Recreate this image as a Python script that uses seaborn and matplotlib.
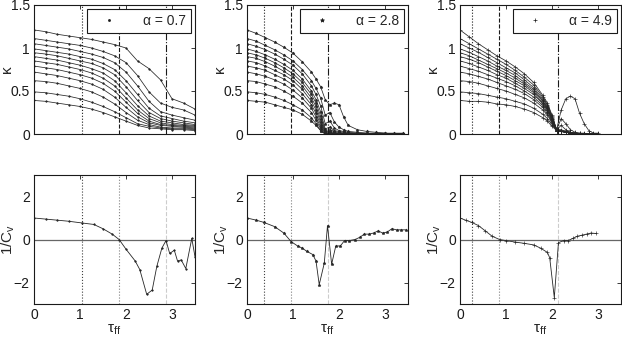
import numpy as np
import pandas as pd
import matplotlib
matplotlib.use("Agg")
import matplotlib.pyplot as plt
from matplotlib.lines import Line2D
import seaborn as sns

# ---- data ----
alphas = ["0.7", "2.8", "4.9"]
markers = [".", "*", "+"]

# top row: kappa curves (12 per panel)
tau_k1 = [0, 0.25, 0.5, 0.75, 1.0, 1.25, 1.5, 1.75, 2.0, 2.25, 2.5, 2.75, 3.0, 3.25, 3.5]
kappa_1 = [
    [1.21, 1.19, 1.16, 1.14, 1.12, 1.10, 1.07, 1.04, 1.00, 0.85, 0.76, 0.63, 0.41, 0.36, 0.29],
    [1.11, 1.09, 1.07, 1.05, 1.03, 1.00, 0.96, 0.91, 0.83, 0.68, 0.49, 0.36, 0.31, 0.28, 0.22],
    [1.05, 1.03, 1.01, 0.99, 0.96, 0.93, 0.89, 0.83, 0.72, 0.56, 0.38, 0.26, 0.22, 0.19, 0.16],
    [0.99, 0.97, 0.95, 0.93, 0.90, 0.87, 0.82, 0.75, 0.62, 0.46, 0.30, 0.21, 0.18, 0.15, 0.13],
    [0.945, 0.93, 0.91, 0.88, 0.85, 0.82, 0.77, 0.69, 0.55, 0.39, 0.25, 0.18, 0.15, 0.13, 0.11],
    [0.90, 0.88, 0.86, 0.83, 0.80, 0.76, 0.71, 0.62, 0.48, 0.33, 0.21, 0.15, 0.13, 0.11, 0.10],
    [0.85, 0.83, 0.81, 0.78, 0.75, 0.71, 0.65, 0.56, 0.42, 0.28, 0.18, 0.13, 0.11, 0.10, 0.09],
    [0.79, 0.77, 0.75, 0.72, 0.69, 0.65, 0.59, 0.50, 0.37, 0.24, 0.15, 0.11, 0.10, 0.09, 0.08],
    [0.72, 0.70, 0.68, 0.65, 0.62, 0.58, 0.52, 0.43, 0.31, 0.20, 0.13, 0.10, 0.09, 0.08, 0.07],
    [0.62, 0.61, 0.59, 0.56, 0.53, 0.49, 0.43, 0.35, 0.25, 0.16, 0.11, 0.08, 0.07, 0.07, 0.06],
    [0.49, 0.48, 0.46, 0.44, 0.41, 0.37, 0.32, 0.26, 0.19, 0.12, 0.09, 0.07, 0.06, 0.06, 0.05],
    [0.39, 0.38, 0.36, 0.34, 0.32, 0.29, 0.25, 0.20, 0.15, 0.10, 0.07, 0.06, 0.05, 0.05, 0.04],
]

tau_k2 = [0, 0.2, 0.4, 0.6, 0.8, 1.0, 1.2, 1.4, 1.5, 1.6, 1.7, 1.8, 1.9, 2.0, 2.1, 2.2, 2.4, 2.6, 2.8, 3.0, 3.2, 3.4]
kappa_2 = [
    [1.21, 1.17, 1.12, 1.07, 1.01, 0.94, 0.84, 0.72, 0.64, 0.55, 0.40, 0.34, 0.36, 0.34, 0.20, 0.10, 0.05, 0.03, 0.02, 0.01, 0.01, 0.01],
    [1.11, 1.08, 1.03, 0.98, 0.92, 0.85, 0.75, 0.62, 0.53, 0.42, 0.22, 0.25, 0.14, 0.08, 0.05, 0.03, 0.02, 0.01, 0.01, 0.01, 0.0, 0.0],
    [1.05, 1.02, 0.98, 0.93, 0.87, 0.80, 0.70, 0.56, 0.46, 0.33, 0.12, 0.15, 0.07, 0.04, 0.03, 0.02, 0.01, 0.01, 0.0, 0.0, 0.0, 0.0],
    [0.99, 0.96, 0.92, 0.87, 0.81, 0.74, 0.64, 0.50, 0.40, 0.26, 0.06, 0.08, 0.04, 0.03, 0.02, 0.01, 0.01, 0.0, 0.0, 0.0, 0.0, 0.0],
    [0.945, 0.92, 0.88, 0.83, 0.77, 0.70, 0.60, 0.46, 0.36, 0.21, 0.04, 0.05, 0.03, 0.02, 0.01, 0.01, 0.0, 0.0, 0.0, 0.0, 0.0, 0.0],
    [0.90, 0.88, 0.84, 0.79, 0.73, 0.66, 0.56, 0.42, 0.32, 0.17, 0.03, 0.03, 0.02, 0.01, 0.01, 0.0, 0.0, 0.0, 0.0, 0.0, 0.0, 0.0],
    [0.85, 0.83, 0.79, 0.74, 0.69, 0.62, 0.52, 0.38, 0.28, 0.14, 0.02, 0.02, 0.01, 0.01, 0.0, 0.0, 0.0, 0.0, 0.0, 0.0, 0.0, 0.0],
    [0.79, 0.77, 0.74, 0.69, 0.64, 0.57, 0.47, 0.34, 0.24, 0.11, 0.01, 0.01, 0.01, 0.0, 0.0, 0.0, 0.0, 0.0, 0.0, 0.0, 0.0, 0.0],
    [0.72, 0.70, 0.67, 0.63, 0.58, 0.51, 0.42, 0.30, 0.20, 0.08, 0.01, 0.01, 0.0, 0.0, 0.0, 0.0, 0.0, 0.0, 0.0, 0.0, 0.0, 0.0],
    [0.62, 0.61, 0.58, 0.55, 0.50, 0.44, 0.36, 0.25, 0.16, 0.06, 0.0, 0.0, 0.0, 0.0, 0.0, 0.0, 0.0, 0.0, 0.0, 0.0, 0.0, 0.0],
    [0.49, 0.48, 0.46, 0.43, 0.39, 0.34, 0.28, 0.19, 0.12, 0.04, 0.0, 0.0, 0.0, 0.0, 0.0, 0.0, 0.0, 0.0, 0.0, 0.0, 0.0, 0.0],
    [0.39, 0.38, 0.37, 0.34, 0.31, 0.28, 0.23, 0.15, 0.10, 0.04, 0.0, 0.0, 0.0, 0.0, 0.0, 0.0, 0.0, 0.0, 0.0, 0.0, 0.0, 0.0],
]

tau_k3 = [0, 0.2, 0.4, 0.6, 0.8, 1.0, 1.2, 1.4, 1.6, 1.8, 1.9, 2.0, 2.1, 2.2, 2.3, 2.4, 2.5, 2.6, 2.7, 2.8, 2.9, 3.0]
kappa_3 = [
    [1.21, 1.13, 1.05, 0.98, 0.91, 0.85, 0.78, 0.70, 0.60, 0.45, 0.36, 0.22, 0.05, 0.28, 0.41, 0.44, 0.41, 0.24, 0.12, 0.04, 0.01, 0.01],
    [1.11, 1.05, 0.99, 0.93, 0.87, 0.81, 0.74, 0.66, 0.57, 0.43, 0.34, 0.21, 0.05, 0.18, 0.12, 0.05, 0.02, 0.01, 0.01, 0.0, 0.0, 0.0],
    [1.05, 1.00, 0.95, 0.89, 0.83, 0.77, 0.71, 0.63, 0.54, 0.41, 0.33, 0.20, 0.05, 0.10, 0.05, 0.02, 0.01, 0.01, 0.0, 0.0, 0.0, 0.0],
    [0.99, 0.95, 0.90, 0.85, 0.79, 0.74, 0.68, 0.60, 0.52, 0.39, 0.31, 0.19, 0.05, 0.05, 0.03, 0.02, 0.01, 0.0, 0.0, 0.0, 0.0, 0.0],
    [0.945, 0.91, 0.86, 0.81, 0.76, 0.71, 0.65, 0.58, 0.50, 0.38, 0.30, 0.18, 0.05, 0.04, 0.03, 0.02, 0.01, 0.0, 0.0, 0.0, 0.0, 0.0],
    [0.90, 0.87, 0.83, 0.78, 0.73, 0.68, 0.62, 0.56, 0.48, 0.36, 0.29, 0.17, 0.04, 0.03, 0.02, 0.01, 0.01, 0.0, 0.0, 0.0, 0.0, 0.0],
    [0.85, 0.82, 0.78, 0.74, 0.69, 0.65, 0.59, 0.53, 0.46, 0.35, 0.28, 0.16, 0.04, 0.03, 0.02, 0.01, 0.0, 0.0, 0.0, 0.0, 0.0, 0.0],
    [0.79, 0.76, 0.73, 0.69, 0.65, 0.61, 0.56, 0.50, 0.43, 0.33, 0.26, 0.15, 0.04, 0.03, 0.02, 0.01, 0.0, 0.0, 0.0, 0.0, 0.0, 0.0],
    [0.72, 0.70, 0.67, 0.64, 0.60, 0.56, 0.52, 0.47, 0.40, 0.31, 0.24, 0.14, 0.04, 0.03, 0.02, 0.01, 0.0, 0.0, 0.0, 0.0, 0.0, 0.0],
    [0.62, 0.61, 0.59, 0.56, 0.53, 0.50, 0.46, 0.42, 0.36, 0.28, 0.22, 0.13, 0.04, 0.03, 0.02, 0.01, 0.0, 0.0, 0.0, 0.0, 0.0, 0.0],
    [0.49, 0.48, 0.47, 0.45, 0.43, 0.41, 0.38, 0.35, 0.30, 0.23, 0.18, 0.11, 0.04, 0.03, 0.02, 0.01, 0.0, 0.0, 0.0, 0.0, 0.0, 0.0],
    [0.39, 0.38, 0.38, 0.37, 0.35, 0.34, 0.32, 0.29, 0.25, 0.19, 0.15, 0.09, 0.04, 0.03, 0.02, 0.01, 0.0, 0.0, 0.0, 0.0, 0.0, 0.0],
]

# bottom row: 1/C_v
tau_c1 = [0, 0.25, 0.5, 0.75, 1.04, 1.3, 1.5, 1.7, 1.85, 2.0, 2.2, 2.3, 2.45, 2.57, 2.67, 2.78, 2.87, 2.95, 3.05, 3.12, 3.2, 3.3, 3.43, 3.5]
invcv_1 = [1.0, 0.95, 0.9, 0.85, 0.77, 0.7, 0.5, 0.25, 0.0, -0.45, -1.0, -1.4, -2.55, -2.35, -1.25, -0.4, -0.05, -0.65, -0.5, -1.0, -0.95, -1.35, 0.05, -0.8]

tau_c2 = [0, 0.2, 0.36, 0.6, 0.8, 0.96, 1.1, 1.2, 1.3, 1.43, 1.5, 1.57, 1.68, 1.75, 1.84, 1.93, 2.03, 2.12, 2.22, 2.35, 2.45, 2.55,
          2.65, 2.75, 2.85, 2.95, 3.05, 3.15, 3.25, 3.35, 3.45]
invcv_2 = [1.0, 0.9, 0.8, 0.6, 0.3, -0.1, -0.3, -0.4, -0.55, -0.7, -1.0, -2.1, -1.1, 0.65, -1.15, -0.3, -0.3, -0.05, -0.05, 0.0, 0.1, 0.25,
           0.25, 0.3, 0.4, 0.3, 0.35, 0.5, 0.45, 0.45, 0.45]

tau_c3 = [0, 0.12, 0.25, 0.4, 0.55, 0.7, 0.86, 1.0, 1.2, 1.4, 1.6, 1.75, 1.9, 1.95, 2.05, 2.14, 2.25, 2.35, 2.45, 2.55, 2.65, 2.75, 2.85, 2.95]
invcv_3 = [1.0, 0.9, 0.8, 0.65, 0.4, 0.15, 0.0, -0.05, -0.12, -0.18, -0.25, -0.4, -0.6, -0.85, -2.7, -0.15, -0.05, -0.05, 0.05, 0.15, 0.2, 0.25, 0.3, 0.28]

# characteristic temperatures (vertical lines)
vlines = [[1.04, 1.85, 2.86], [0.36, 0.96, 1.75], [0.25, 0.855, 2.14]]

tau_k = [tau_k1, tau_k2, tau_k3]
kappas = [kappa_1, kappa_2, kappa_3]
tau_c = [tau_c1, tau_c2, tau_c3]
invcvs = [invcv_1, invcv_2, invcv_3]

sns.set_theme(style="white")
plt.rcParams["font.family"] = ["Liberation Sans", "DejaVu Sans"]
plt.rcParams["mathtext.default"] = "regular"
plt.rcParams["xtick.direction"] = "in"
plt.rcParams["ytick.direction"] = "in"

fig = plt.figure(figsize=(6.22, 3.38), dpi=100)
W, H = 622, 338
lefts = [34, 247, 460]
aw, ah = 161, 129

top_styles = [":", "--", "-."]
bot_styles = [(":", "0.25"), (":", "0.5"), ("--", "0.8")]

for i in range(3):
    # ---- top: kappa ----
    ax = fig.add_axes([lefts[i] / W, (H - 134) / H, aw / W, ah / H])
    rows = []
    for j, curve in enumerate(kappas[i]):
        for t, k in zip(tau_k[i], curve):
            rows.append({"tau": t, "kappa": k, "curve": j})
    df = pd.DataFrame(rows)
    sns.lineplot(data=df, x="tau", y="kappa", units="curve", estimator=None, sort=False,
                 color="0.15", lw=0.55, marker=markers[i], ms=2.2, mew=0.45, mec="0.15", ax=ax)
    for v, ls in zip(vlines[i], top_styles):
        ax.axvline(v, color="k", ls=ls, lw=0.8)
    ax.set_xlim(0, 3.5)
    ax.set_ylim(0, 1.5)
    ax.set_xticks([0, 1, 2, 3])
    ax.set_xticklabels([])
    ax.set_yticks([0, 0.5, 1, 1.5])
    ax.set_yticklabels(["0", "0.5", "1", "1.5"])
    ax.set_xlabel("")
    ax.set_ylabel("κ", fontsize=11)
    ax.yaxis.set_label_coords(-20 / aw, 0.5)
    h = Line2D([], [], ls="none", marker=markers[i], ms=3, color="0.1", mew=0.5)
    leg = ax.legend([h], [f"α = {alphas[i]}"], loc="upper right", fontsize=10,
                    fancybox=False, framealpha=1, edgecolor="k", borderaxespad=0.3,
                    handlelength=2.5, handletextpad=1.2, borderpad=0.35)
    leg.get_frame().set_linewidth(0.8)

    # ---- bottom: 1/C_v ----
    bx = fig.add_axes([lefts[i] / W, (H - 304) / H, aw / W, ah / H])
    dfc = pd.DataFrame({"tau": tau_c[i], "invcv": invcvs[i]})
    bx.axhline(0, color="0.4", lw=0.9)
    for v, (ls, c) in zip(vlines[i], bot_styles):
        bx.axvline(v, color=c, ls=ls, lw=0.8)
    sns.lineplot(data=dfc, x="tau", y="invcv", estimator=None, sort=False,
                 color="0.15", lw=0.6, marker=markers[i], ms=2.2, mew=0.45, mec="0.15", ax=bx)
    bx.set_xlim(0, 3.5)
    bx.set_ylim(-3, 3)
    bx.set_xticks([0, 1, 2, 3])
    bx.set_xticklabels(["0", "1", "2", "3"])
    bx.set_yticks([-2, 0, 2])
    bx.set_yticklabels(["\u22122", "0", "2"])
    bx.set_xlabel(r"$\tau_{ff}$", fontsize=11, labelpad=0)
    bx.set_ylabel(r"1/C$_v$", fontsize=11)
    bx.yaxis.set_label_coords(-17 / aw, 0.5)

    for a in (ax, bx):
        a.tick_params(axis="both", which="both", labelsize=10, length=3, width=0.6,
                      top=True, right=True, colors="k", pad=3)
        for s in a.spines.values():
            s.set_color("k")
            s.set_linewidth(0.8)

fig.savefig("out.png", dpi=100)
